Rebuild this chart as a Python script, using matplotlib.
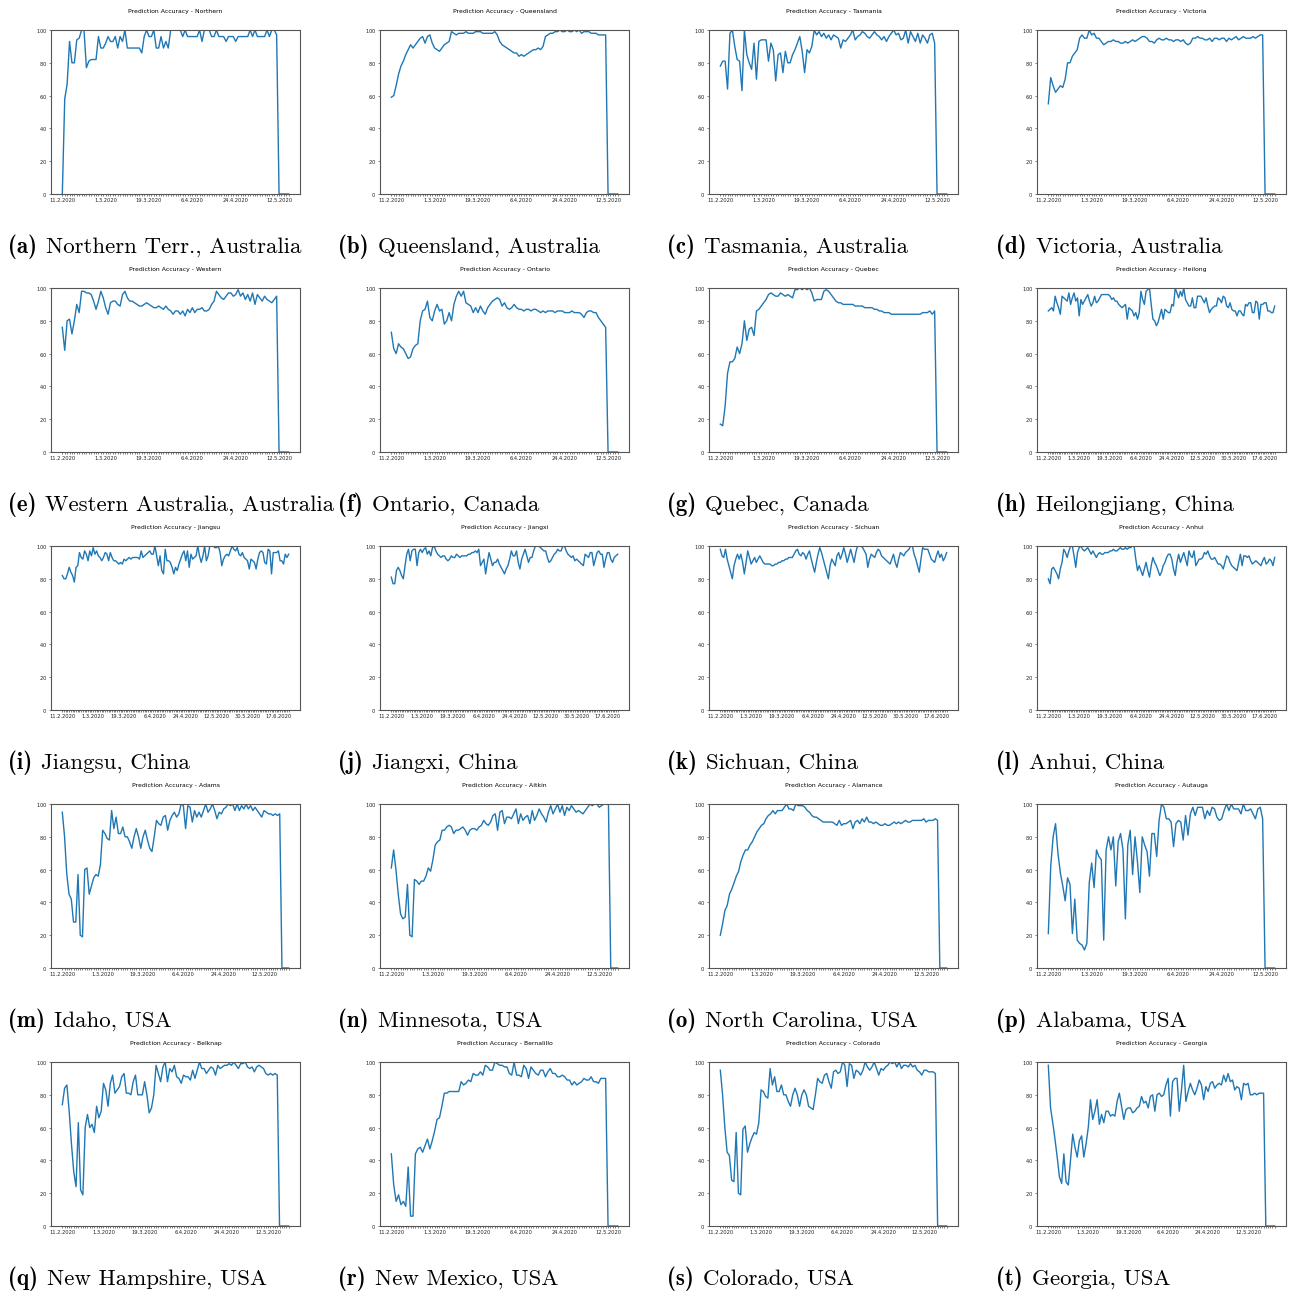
import matplotlib.pyplot as plt
import pandas as pd

plt.rcParams['axes.formatter.use_mathtext'] = True

# accuracy series (percent), one value per day starting 11.2.2020
northern = [0, 58, 67, 93, 80, 80, 94, 95, 100, 100,
            77, 81, 82, 82, 82, 96, 89, 89, 92, 96,
            93, 93, 96, 89, 96, 93, 100, 89, 89, 89,
            89, 89, 89, 86, 96, 100, 96, 96, 100, 89,
            89, 96, 89, 93, 89, 100, 100, 100, 100, 100,
            96, 100, 96, 96, 96, 96, 96, 100, 93, 100,
            100, 100, 96, 96, 100, 96, 96, 96, 93, 96,
            96, 96, 93, 96, 96, 96, 96, 96, 100, 96,
            100, 96, 96, 96, 96, 100, 96, 100, 100, 97,
            0, 0, 0, 0, 0]
queensland = [59, 60, 66, 73, 78, 81, 85, 88, 91, 89,
              91, 93, 95, 96, 92, 96, 97, 92, 89, 88,
              87, 89, 91, 92, 93, 99, 98, 97, 98, 98,
              98, 99, 98, 98, 98, 99, 99, 99, 98, 98,
              98, 98, 98, 99, 97, 93, 91, 90, 89, 88,
              87, 86, 86, 84, 85, 84, 85, 86, 87, 88,
              88, 89, 88, 90, 96, 97, 98, 98, 99, 99,
              100, 99, 99, 100, 99, 99, 100, 99, 100, 98,
              99, 99, 99, 98, 98, 98, 97, 97, 97, 97,
              0, 0, 0, 0, 0]
tasmania = [78, 81, 81, 64, 98, 100, 90, 82, 81, 63,
            100, 85, 80, 76, 92, 70, 93, 94, 94, 94,
            81, 92, 88, 69, 85, 86, 74, 87, 80, 80,
            85, 88, 92, 96, 87, 74, 88, 86, 90, 100,
            97, 99, 96, 98, 95, 97, 94, 97, 96, 95,
            89, 94, 93, 95, 97, 100, 94, 96, 97, 99,
            98, 96, 95, 97, 99, 97, 96, 94, 96, 93,
            96, 98, 100, 97, 98, 94, 95, 100, 92, 99,
            96, 93, 98, 92, 97, 95, 92, 97, 98, 92,
            0, 0, 0, 0, 0]
victoria = [55, 71, 66, 62, 64, 66, 65, 70, 80, 80,
            84, 86, 88, 95, 97, 95, 95, 100, 97, 98,
            95, 95, 93, 91, 92, 93, 93, 94, 93, 93,
            92, 92, 93, 92, 93, 94, 93, 94, 95, 96,
            96, 95, 93, 93, 92, 94, 95, 94, 94, 95,
            94, 94, 93, 94, 94, 93, 94, 92, 91, 92,
            95, 95, 96, 95, 95, 94, 94, 95, 93, 95,
            95, 94, 95, 95, 93, 95, 94, 95, 96, 94,
            95, 96, 95, 95, 95, 96, 95, 96, 97, 97,
            0, 0, 0, 0, 0]
western = [76, 62, 80, 81, 72, 80, 90, 85, 98, 98,
           97, 97, 96, 92, 87, 92, 98, 94, 88, 84,
           91, 92, 92, 90, 89, 96, 98, 94, 92, 92,
           91, 90, 89, 89, 90, 91, 90, 89, 88, 88,
           89, 88, 87, 89, 87, 86, 84, 86, 86, 84,
           86, 83, 87, 85, 88, 85, 87, 87, 88, 86,
           86, 87, 90, 92, 98, 96, 94, 93, 95, 97,
           97, 95, 96, 99, 95, 97, 93, 96, 92, 97,
           90, 96, 94, 92, 95, 93, 92, 91, 93, 95,
           0, 0, 0, 0, 0]
ontario = [73, 63, 60, 66, 64, 63, 60, 57, 58, 63,
           65, 66, 80, 86, 87, 92, 82, 80, 86, 90,
           86, 87, 78, 80, 85, 80, 90, 95, 98, 95,
           98, 91, 90, 89, 85, 88, 85, 89, 86, 84,
           88, 90, 92, 93, 94, 93, 89, 91, 88, 87,
           88, 90, 88, 87, 87, 86, 87, 87, 86, 87,
           87, 86, 85, 86, 85, 86, 86, 86, 85, 86,
           86, 86, 85, 85, 85, 86, 85, 85, 85, 84,
           82, 85, 86, 86, 85, 85, 82, 80, 78, 76,
           0, 0, 0, 0, 0]
quebec = [17, 16, 28, 48, 55, 55, 57, 64, 60, 66,
          80, 68, 75, 76, 71, 86, 87, 89, 91, 93,
          96, 97, 96, 95, 95, 97, 96, 95, 96, 95,
          94, 99, 99, 100, 99, 100, 99, 100, 97, 92,
          93, 93, 93, 98, 99, 98, 96, 94, 92, 91,
          91, 90, 90, 90, 90, 90, 89, 89, 89, 89,
          88, 88, 88, 88, 87, 87, 86, 86, 85, 85,
          85, 84, 84, 84, 84, 84, 84, 84, 84, 84,
          84, 84, 84, 84, 85, 85, 85, 86, 84, 86,
          0, 0, 0, 0, 0]
heilong = [86, 87, 88, 86, 95, 91, 88, 84, 95, 94,
           93, 92, 97, 90, 94, 97, 92, 94, 83, 93,
           90, 92, 94, 96, 92, 89, 91, 95, 91, 92,
           94, 96, 96, 96, 96, 96, 95, 93, 94, 92,
           92, 90, 89, 88, 89, 90, 81, 88, 87, 86,
           83, 85, 81, 85, 98, 93, 90, 98, 99, 100,
           90, 81, 80, 77, 79, 83, 87, 81, 87, 86,
           85, 85, 90, 89, 100, 97, 94, 98, 95, 100,
           93, 91, 89, 89, 94, 88, 88, 95, 95, 95,
           93, 91, 94, 89, 85, 87, 88, 89, 89, 94,
           93, 91, 95, 94, 89, 88, 91, 87, 86, 86,
           83, 86, 86, 84, 83, 90, 89, 91, 91, 85,
           85, 92, 91, 81, 90, 90, 91, 91, 86, 86,
           85, 85, 89]
jiangsu = [82, 80, 80, 83, 87, 84, 82, 78, 87, 88,
           96, 93, 92, 97, 95, 91, 97, 94, 99, 95,
           97, 94, 93, 91, 93, 96, 95, 91, 96, 93,
           91, 91, 90, 89, 90, 89, 92, 91, 92, 93,
           92, 93, 93, 93, 93, 92, 97, 93, 94, 95,
           96, 97, 95, 95, 100, 94, 88, 94, 85, 83,
           98, 91, 91, 90, 87, 83, 87, 85, 89, 92,
           95, 97, 91, 97, 87, 95, 92, 93, 94, 100,
           94, 90, 94, 100, 91, 94, 100, 100, 100, 99,
           99, 100, 96, 88, 92, 94, 95, 94, 97, 100,
           98, 97, 99, 95, 94, 96, 93, 92, 91, 86,
           92, 91, 90, 86, 92, 96, 97, 96, 90, 89,
           98, 97, 83, 96, 96, 96, 97, 91, 91, 89,
           95, 93, 95]
jiangxi = [81, 77, 77, 85, 87, 85, 82, 80, 88, 95,
           98, 91, 97, 98, 98, 88, 96, 98, 96, 98,
           99, 95, 97, 94, 99, 100, 97, 95, 94, 93,
           94, 94, 92, 91, 92, 94, 93, 93, 95, 94,
           93, 94, 94, 94, 94, 95, 95, 96, 96, 97,
           96, 98, 88, 90, 92, 83, 90, 96, 92, 88,
           90, 90, 92, 89, 87, 85, 83, 86, 88, 92,
           97, 94, 94, 97, 90, 86, 92, 95, 98, 94,
           90, 93, 93, 97, 100, 100, 100, 99, 98, 97,
           97, 93, 90, 91, 93, 95, 96, 98, 97, 97,
           100, 100, 97, 95, 94, 93, 94, 91, 92, 91,
           90, 89, 88, 95, 94, 93, 96, 96, 88, 92,
           96, 97, 95, 95, 87, 92, 96, 96, 92, 90,
           93, 94, 95]
sichuan = [98, 94, 93, 98, 92, 88, 84, 80, 88, 92,
           95, 92, 95, 90, 83, 90, 97, 93, 89, 91,
           93, 90, 92, 94, 92, 90, 89, 89, 89, 89,
           88, 88, 89, 89, 90, 90, 91, 91, 92, 92,
           93, 93, 93, 95, 97, 98, 95, 94, 96, 95,
           92, 95, 97, 92, 88, 84, 90, 95, 99, 96,
           92, 88, 84, 80, 88, 92, 90, 88, 94, 96,
           92, 95, 99, 95, 90, 94, 98, 94, 90, 96,
           100, 100, 100, 99, 97, 95, 87, 92, 95, 94,
           93, 96, 98, 97, 94, 93, 92, 91, 90, 89,
           92, 95, 90, 87, 92, 96, 95, 94, 96, 97,
           98, 100, 100, 95, 92, 88, 84, 92, 99, 98,
           98, 98, 95, 92, 91, 90, 94, 97, 93, 95,
           91, 93, 96]
anhui = [80, 77, 86, 87, 85, 83, 80, 86, 90, 98,
         96, 93, 97, 100, 100, 94, 87, 96, 99, 100,
         98, 97, 98, 99, 97, 95, 97, 95, 93, 95,
         96, 95, 95, 96, 96, 96, 97, 97, 98, 97,
         97, 98, 99, 98, 98, 99, 98, 99, 99, 100,
         100, 92, 85, 88, 85, 82, 86, 90, 85, 81,
         88, 93, 90, 88, 85, 82, 84, 88, 90, 93,
         95, 95, 92, 86, 82, 90, 95, 90, 93, 96,
         92, 88, 97, 94, 93, 97, 88, 90, 92, 92,
         93, 96, 95, 97, 94, 92, 92, 93, 91, 89,
         89, 88, 86, 90, 94, 93, 90, 88, 87, 86,
         85, 90, 95, 88, 94, 94, 93, 94, 91, 89,
         90, 91, 90, 89, 88, 91, 93, 89, 90, 92,
         91, 88, 93]
adams = [95, 80, 57, 45, 42, 28, 28, 57, 20, 19,
         60, 61, 45, 50, 55, 57, 56, 63, 84, 82,
         79, 78, 96, 85, 92, 82, 82, 86, 80, 80,
         77, 73, 80, 85, 80, 73, 80, 84, 78, 73,
         71, 80, 90, 88, 87, 92, 93, 84, 90, 93,
         95, 92, 94, 100, 99, 85, 99, 98, 89, 96,
         92, 95, 92, 96, 100, 95, 97, 100, 96, 91,
         95, 94, 97, 98, 100, 99, 100, 96, 100, 96,
         99, 97, 100, 97, 99, 96, 98, 96, 94, 92,
         96, 95, 94, 94, 93, 94, 93, 94,
         0, 0, 0, 0]
aitkin = [61, 72, 60, 45, 33, 30, 31, 51, 20, 19,
          54, 53, 51, 53, 53, 56, 61, 59, 66, 75,
          77, 78, 84, 84, 86, 87, 86, 82, 84, 84,
          85, 86, 84, 81, 84, 85, 85, 84, 86, 87,
          90, 88, 87, 89, 93, 94, 84, 95, 96, 88,
          92, 92, 91, 94, 97, 88, 94, 90, 92, 93,
          88, 96, 90, 93, 97, 94, 92, 89, 95, 99,
          94, 97, 100, 95, 99, 93, 98, 96, 99, 97,
          95, 96, 95, 94, 96, 98, 100, 99, 100, 100,
          98, 99, 100, 100, 100,
          0, 0, 0, 0]
alamance = [20, 27, 35, 38, 45, 48, 52, 56, 59, 65,
            69, 72, 72, 75, 77, 80, 83, 85, 87, 88,
            91, 93, 94, 96, 94, 96, 96, 96, 98, 100,
            97, 97, 96, 100, 99, 99, 99, 98, 96, 95,
            93, 92, 92, 91, 90, 89, 89, 89, 89, 89,
            88, 87, 90, 87, 88, 88, 89, 90, 85, 89,
            90, 88, 91, 89, 92, 89, 89, 88, 89, 88,
            87, 87, 88, 87, 87, 88, 89, 88, 89, 88,
            89, 90, 89, 89, 90, 90, 90, 90, 90, 91,
            89, 90, 90, 90, 91, 90,
            0, 0, 0, 0]
autauga = [21, 62, 80, 88, 70, 58, 50, 41, 55, 51,
           21, 42, 17, 15, 14, 11, 15, 52, 64, 49,
           72, 68, 66, 17, 72, 80, 72, 80, 50, 77,
           82, 72, 30, 75, 84, 57, 80, 65, 46, 80,
           75, 71, 56, 82, 82, 68, 90, 100, 98, 91,
           91, 89, 74, 88, 90, 89, 78, 93, 81, 94,
           98, 93, 98, 98, 98, 91, 96, 93, 98, 97,
           92, 90, 91, 96, 100, 96, 100, 97, 97, 97,
           94, 100, 96, 96, 97, 94, 91, 97, 98, 91,
           0, 0, 0, 0, 0]
belknap = [74, 84, 86, 70, 50, 33, 24, 63, 22, 19,
           60, 68, 60, 62, 57, 73, 66, 70, 87, 83,
           73, 87, 92, 81, 83, 85, 91, 93, 81, 81,
           80, 88, 92, 80, 80, 80, 88, 80, 69, 72,
           80, 98, 93, 88, 97, 100, 88, 96, 94, 98,
           91, 90, 87, 92, 91, 91, 89, 95, 90, 95,
           100, 96, 96, 93, 95, 97, 96, 92, 98, 96,
           97, 98, 98, 99, 98, 100, 98, 96, 99, 99,
           100, 97, 96, 97, 94, 97, 98, 97, 96, 93,
           92, 93, 92, 93, 92,
           0, 0, 0, 0, 0]
bernalillo = [44, 25, 15, 19, 13, 15, 12, 36, 6, 6,
              44, 47, 48, 45, 49, 53, 47, 52, 58, 65,
              66, 73, 81, 81, 82, 82, 82, 82, 82, 88,
              86, 87, 89, 88, 93, 92, 92, 94, 92, 98,
              97, 95, 95, 100, 99, 98, 98, 97, 97, 93,
              92, 100, 92, 92, 91, 98, 96, 90, 97, 95,
              93, 92, 95, 95, 91, 94, 96, 93, 93, 91,
              91, 92, 91, 89, 89, 86, 88, 86, 87, 88,
              90, 89, 89, 91, 88, 88, 87, 90, 90, 90,
              0, 0, 0, 0, 0]
colorado = [95, 80, 60, 45, 43, 28, 27, 57, 20, 19,
            59, 61, 45, 50, 54, 57, 56, 63, 83, 82,
            79, 78, 96, 86, 91, 82, 82, 86, 80, 80,
            76, 73, 80, 84, 80, 73, 80, 83, 80, 73,
            72, 71, 80, 90, 88, 87, 92, 93, 88, 84,
            94, 95, 93, 94, 100, 98, 85, 99, 98, 90,
            95, 94, 92, 95, 100, 97, 95, 97, 100, 96,
            92, 96, 95, 97, 98, 100, 99, 100, 97, 100,
            96, 98, 98, 97, 99, 97, 98, 95, 94, 92,
            95, 95, 94, 94, 94, 93,
            0, 0, 0, 0, 0]
georgia = [98, 72, 63, 53, 42, 30, 26, 44, 27, 25,
           40, 56, 48, 42, 52, 55, 42, 50, 60, 77,
           65, 70, 77, 62, 68, 63, 70, 70, 67, 68,
           67, 76, 81, 73, 65, 71, 72, 72, 69, 70,
           72, 73, 79, 75, 76, 72, 79, 80, 70, 80,
           81, 79, 80, 86, 90, 67, 88, 90, 90, 70,
           83, 98, 76, 82, 87, 83, 80, 84, 89, 86,
           77, 85, 82, 87, 88, 84, 86, 87, 86, 92,
           88, 93, 88, 89, 83, 85, 84, 77, 87, 86,
           87, 80, 80, 81, 80, 81, 81, 81,
           0, 0, 0, 0, 0]

titles = ["Northern", "Queensland", "Tasmania", "Victoria",
          "Western", "Ontario", "Quebec", "Heilong",
          "Jiangsu", "Jiangxi", "Sichuan", "Anhui",
          "Adams", "Aitkin", "Alamance", "Autauga",
          "Belknap", "Bernalillo", "Colorado", "Georgia"]
series = [northern, queensland, tasmania, victoria,
          western, ontario, quebec, heilong,
          jiangsu, jiangxi, sichuan, anhui,
          adams, aitkin, alamance, autauga,
          belknap, bernalillo, colorado, georgia]
captions = ["Northern Terr., Australia", "Queensland, Australia",
            "Tasmania, Australia", "Victoria, Australia",
            "Western Australia, Australia", "Ontario, Canada",
            "Quebec, Canada", "Heilongjiang, China",
            "Jiangsu, China", "Jiangxi, China", "Sichuan, China",
            "Anhui, China", "Idaho, USA", "Minnesota, USA",
            "North Carolina, USA", "Alabama, USA", "New Hampshire, USA",
            "New Mexico, USA", "Colorado, USA", "Georgia, USA"]
letters = "abcdefghijklmnopqrst"


def date_labels(n):
    # the series skip 29.2.2020
    days = pd.date_range("2020-02-11", periods=n + 1)
    days = days[days != pd.Timestamp("2020-02-29")][:n]
    return [f"{d.day}.{d.month}.{d.year}" for d in days]


W, H = 1292, 1291
fig = plt.figure(figsize=(W / 100, H / 100), dpi=100)
renderer = fig.canvas.get_renderer()

col_left = [51, 380, 709, 1037]
row_top = [30, 288, 546, 804, 1062]
ax_w, ax_h = 249, 164
cap_x = [8, 338, 667, 996]
cap_size = 16.5

for k, (name, vals) in enumerate(zip(titles, series)):
    r, c = divmod(k, 4)
    ax = fig.add_axes([col_left[c] / W, 1 - (row_top[r] + ax_h) / H,
                       ax_w / W, ax_h / H])
    labels = date_labels(len(vals))
    ax.plot(labels, vals, color='#1f77b4', lw=1.0)
    ax.set_xticks(range(len(labels)))
    ax.set_xticklabels([lab if i % 18 == 0 else "" for i, lab in enumerate(labels)])
    ax.set_ylim(0, 100)
    ax.set_yticks([0, 20, 40, 60, 80, 100])
    ax.tick_params(labelsize=3.7, length=1.6, width=0.4, pad=1, colors='#222222')
    for sp in ax.spines.values():
        sp.set_color('#555555')
        sp.set_linewidth(0.8)
    ax.set_title(f"Prediction Accuracy - {name}", fontsize=4.4, pad=12)

    y = 1 - (row_top[r] + 217) / H
    tag = fig.text(cap_x[c] / W, y, f"({letters[k]})", family='cmb10',
                   fontsize=cap_size, va='center', ha='left')
    x_end = tag.get_window_extent(renderer).x1
    fig.text((x_end + 9) / W, y, captions[k], family='cmr10',
             fontsize=cap_size, va='center', ha='left')

fig.savefig("out.png", dpi=100)
